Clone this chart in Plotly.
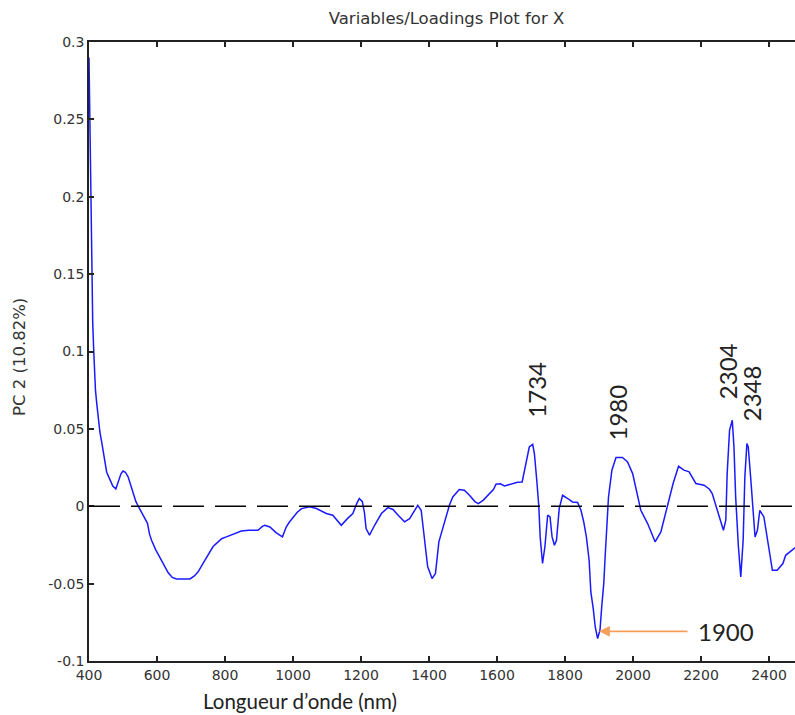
import plotly.graph_objects as go

wavelength = [400, 401, 402, 404, 406, 409, 411, 414, 416, 419, 423, 428, 432, 437, 442, 447, 452, 460, 470, 479,
              487, 494, 500, 507, 515, 522, 530, 538, 545, 555, 565, 572, 578, 584, 596, 608, 620, 633, 645, 657,
              677, 697, 710, 721, 735, 745, 755, 765, 775, 790, 804, 825, 848, 870, 897, 910, 917, 932, 950, 969,
              980, 990, 1000, 1012, 1025, 1049, 1069, 1085, 1098, 1117, 1130, 1142, 1160, 1176, 1188, 1195, 1204, 1210, 1215, 1225,
              1240, 1260, 1279, 1294, 1310, 1328, 1343, 1358, 1367, 1377, 1387, 1396, 1409, 1419, 1429, 1445, 1460, 1470, 1489, 1504,
              1519, 1535, 1545, 1560, 1578, 1590, 1597, 1610, 1622, 1636, 1646, 1660, 1674, 1680, 1685, 1695, 1705, 1710, 1717, 1723,
              1727, 1734, 1741, 1749, 1756, 1762, 1769, 1775, 1783, 1793, 1808, 1822, 1837, 1847, 1855, 1863, 1871, 1876, 1883, 1889,
              1896, 1903, 1908, 1914, 1918, 1922, 1928, 1938, 1950, 1969, 1984, 1999, 2009, 2023, 2043, 2055, 2065, 2082, 2101, 2118,
              2134, 2150, 2165, 2185, 2209, 2225, 2233, 2248, 2258, 2266, 2273, 2277, 2284, 2292, 2297, 2302, 2310, 2317, 2324, 2329,
              2335, 2339, 2346, 2353, 2359, 2366, 2373, 2385, 2395, 2410, 2424, 2441, 2449, 2465, 2476, 2490, 2500]
pc2_loading = [0.290, 0.275, 0.250, 0.215, 0.192, 0.150, 0.118, 0.100, 0.088, 0.075, 0.066, 0.053, 0.048, 0.042, 0.035, 0.028, 0.022, 0.018, 0.013, 0.0112,
               0.016, 0.021, 0.0228, 0.022, 0.019, 0.014, 0.009, 0.003, 0.000, -0.004, -0.008, -0.011, -0.018, -0.022, -0.028, -0.033, -0.038, -0.043, -0.046, -0.047,
               -0.047, -0.047, -0.045, -0.0424, -0.037, -0.033, -0.0295, -0.026, -0.024, -0.021, -0.0198, -0.018, -0.016, -0.0155, -0.0155, -0.013, -0.0123, -0.0134, -0.017, -0.0198,
               -0.0134, -0.010, -0.0069, -0.004, -0.0015, -0.0004, -0.0015, -0.003, -0.0047, -0.0058, -0.009, -0.0123, -0.008, -0.0047, 0.002, 0.005, 0.003, -0.004, -0.0144, -0.0187,
               -0.0123, -0.0047, -0.0009, -0.0021, -0.006, -0.0101, -0.008, -0.002, 0.0006, -0.0026, -0.024, -0.039, -0.0467, -0.0435, -0.023, -0.0112, 0.0006, 0.006, 0.0108, 0.0103,
               0.0071, 0.003, 0.0017, 0.004, 0.0082, 0.011, 0.0142, 0.0145, 0.0131, 0.014, 0.015, 0.0155, 0.0157, 0.022, 0.0276, 0.0383, 0.040, 0.034, 0.0168, 0.000,
               -0.0198, -0.037, -0.026, -0.0058, -0.0069, -0.0198, -0.0252, -0.022, -0.0015, 0.0071, 0.005, 0.0028, 0.0024, -0.0026, -0.010, -0.020, -0.0349, -0.0554, -0.066, -0.078,
               -0.0855, -0.080, -0.065, -0.050, -0.033, -0.015, 0.006, 0.0233, 0.0315, 0.0315, 0.0287, 0.0211, 0.0103, -0.0026, -0.0112, -0.018, -0.023, -0.0166, 0.000, 0.0147,
               0.0258, 0.0233, 0.0222, 0.0147, 0.0136, 0.011, 0.0082, -0.0026, -0.011, -0.0155, -0.009, 0.0211, 0.049, 0.0556, 0.0383, 0.006, -0.026, -0.0457, -0.022, 0.0189,
               0.0405, 0.0383, 0.0189, -0.0047, -0.0198, -0.0155, -0.0026, -0.0069, -0.022, -0.0414, -0.0414, -0.037, -0.0317, -0.029, -0.027, -0.026, -0.025]

x_ticks = [400, 600, 800, 1000, 1200, 1400, 1600, 1800, 2000, 2200, 2400]
y_ticks = [-0.1, -0.05, 0, 0.05, 0.1, 0.15, 0.2, 0.25, 0.3]
y_ticktext = ["-0.1", "-0.05", "0", "0.05", "0.1", "0.15", "0.2", "0.25", "0.3"]

peak_labels = ["1734", "1980", "2304", "2348"]
peak_label_x = [1716, 1955, 2277, 2349]
peak_label_y = [0.0756, 0.0604, 0.0874, 0.0728]

arrow_label = "1900"
arrow_tip = (1900, -0.0808)

title_text = "Variables/Loadings Plot for X"
x_title = "Longueur d’onde (nm)"
y_title = "PC 2 (10.82%)"

fig = go.Figure()
fig.add_trace(go.Scatter(x=wavelength, y=pc2_loading, mode="lines",
                         line=dict(color="#1a1aff", width=1.5), showlegend=False))

fig.add_shape(type="line", xref="x", yref="y", x0=400, x1=2500, y0=0, y1=0,
              line=dict(color="black", width=1.5, dash="31px,11px"))

tick_font = dict(family="DejaVu Sans", size=14, color="#333")
fig.update_xaxes(range=[400, 2476.5], tickvals=x_ticks, ticks="inside", ticklen=5, tickwidth=1.5,
                 tickcolor="#222", showline=True, linewidth=1.5, linecolor="#222", mirror="ticks",
                 showgrid=False, zeroline=False, tickfont=tick_font)
fig.update_yaxes(range=[-0.1, 0.3], tickvals=y_ticks, ticktext=y_ticktext, ticks="inside", ticklen=5,
                 tickwidth=1.5, tickcolor="#222", showline=True, linewidth=1.5, linecolor="#222",
                 mirror=False, showgrid=False, zeroline=False, tickfont=tick_font)

num_font = dict(family="Lato", size=24, color="#222")
for t, px, py in zip(peak_labels, peak_label_x, peak_label_y):
    fig.add_annotation(x=px, y=py, xref="x", yref="y", text=t, textangle=-90, showarrow=False,
                       font=num_font, xanchor="center", yanchor="middle")

fig.add_annotation(x=arrow_tip[0], y=arrow_tip[1], xref="x", yref="y", text="", showarrow=True,
                   ax=90, ay=0, arrowhead=2, arrowsize=1.2, arrowwidth=1.8, arrowcolor="#f5a05a")
fig.add_annotation(x=2186, y=arrow_tip[1], xref="x", yref="y", text=arrow_label, showarrow=False,
                   font=num_font, xanchor="left", yanchor="middle")

fig.add_annotation(x=(300 - 89) / 706, y=(661 - 701) / 619, xref="paper", yref="paper", text=x_title,
                   showarrow=False, font=dict(family="Lato", size=20.5, color="#222"),
                   xanchor="center", yanchor="middle")
fig.add_annotation(x=(19 - 89) / 706, y=(661 - 357) / 619, xref="paper", yref="paper", text=y_title,
                   textangle=-90, showarrow=False, font=dict(family="DejaVu Sans", size=16.5, color="#333"),
                   xanchor="center", yanchor="middle")

fig.update_layout(
    width=795, height=715,
    margin=dict(l=89, r=0, t=42, b=54),
    paper_bgcolor="white", plot_bgcolor="white",
    title=dict(text=title_text, x=(446.5 - 89) / 706, xref="paper", xanchor="center",
               y=1 - 18 / 715, yanchor="middle", font=dict(family="DejaVu Sans", size=16.5, color="#333")),
)

fig.write_html("out.html")
